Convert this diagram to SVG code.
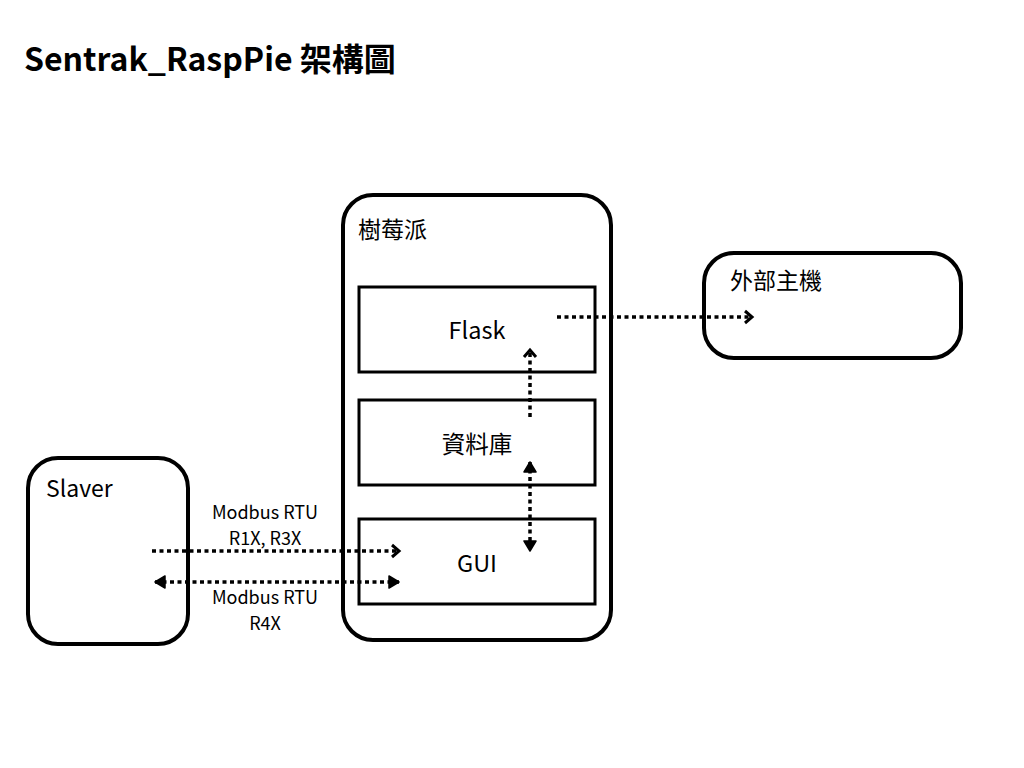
<svg xmlns="http://www.w3.org/2000/svg" width="1024" height="768" viewBox="0 0 1024 768">
<defs>
<style>
text{font-family:"Noto Sans CJK TC","Noto Sans",sans-serif;fill:#000}
.outer{fill:#fff;stroke:#000;stroke-width:4}
.inner{fill:#fff;stroke:#000;stroke-width:3}
.lbl{font-size:23.5px;text-anchor:middle}
.nm{font-size:23px}
.small{font-size:18px;text-anchor:middle}
.conn{fill:none;stroke:#000;stroke-width:3.5;stroke-dasharray:4 3.5}
</style>
<marker id="open" viewBox="0 0 14 16" refX="10" refY="8" markerWidth="14" markerHeight="16" markerUnits="userSpaceOnUse" orient="auto">
<path d="M3,2 L10,8 L3,14" fill="none" stroke="#000" stroke-width="3"/>
</marker>
<marker id="fill" viewBox="0 0 14 16" refX="12" refY="8" markerWidth="14" markerHeight="16" markerUnits="userSpaceOnUse" orient="auto-start-reverse">
<path d="M2,2 L12,8 L2,14 Z" fill="#000" stroke="#000" stroke-width="1.5" stroke-linejoin="round"/>
</marker>
</defs>
<rect width="1024" height="768" fill="#fff"/>
<text x="24" y="71" font-size="32" font-weight="bold">Sentrak_RaspPie 架構圖</text>
<g id="raspi">
<rect class="outer" x="343" y="195" width="268" height="445" rx="30"/>
<text class="nm" x="358" y="238">樹莓派</text>
</g>
<g id="flask">
<rect class="inner" x="359" y="287" width="236" height="85"/>
<text class="lbl" x="477" y="339">Flask</text>
</g>
<g id="db">
<rect class="inner" x="359" y="400" width="236" height="85"/>
<text class="lbl" x="477" y="453">資料庫</text>
</g>
<g id="gui">
<rect class="inner" x="359" y="519" width="236" height="85"/>
<text class="lbl" x="477" y="572">GUI</text>
</g>
<g id="slaver">
<rect class="outer" x="28" y="458" width="160" height="186" rx="30"/>
<text class="nm" x="46" y="497">Slaver</text>
</g>
<g id="host">
<rect class="outer" x="704" y="253" width="257" height="105" rx="30"/>
<text class="nm" x="730" y="289">外部主機</text>
</g>
<g id="connectors">
<line class="conn" x1="152" y1="551" x2="399" y2="551" marker-end="url(#open)"/>
<line class="conn" x1="155" y1="582" x2="399" y2="582" marker-start="url(#fill)" marker-end="url(#fill)"/>
<line class="conn" x1="557" y1="317" x2="752" y2="317" marker-end="url(#open)"/>
<line class="conn" x1="530" y1="417" x2="530" y2="350" marker-end="url(#open)"/>
<line class="conn" x1="530" y1="462" x2="530" y2="551" marker-start="url(#fill)" marker-end="url(#fill)"/>
<text class="small" x="265" y="519">Modbus RTU</text>
<text class="small" x="265" y="545">R1X, R3X</text>
<text class="small" x="265" y="604">Modbus RTU</text>
<text class="small" x="265" y="630">R4X</text>
</g>
</svg>
